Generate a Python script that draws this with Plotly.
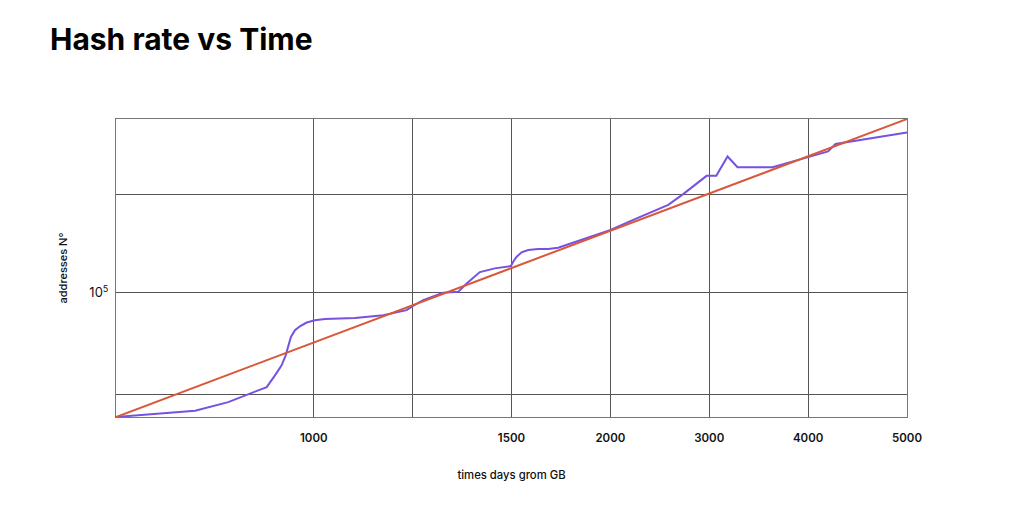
import plotly.graph_objects as go

# x positions are grid steps; labels below mark the days
tick_pos = [2, 4, 5, 6, 7, 8]
tick_labels = ["1000", "1500", "2000", "3000", "4000", "5000"]
x_extra_grid = [3]

y_tick_vals = [100000]
y_tick_text = ["10<sup>5</sup>"]
y_extra_grid = [49400, 197500]

hash_x = [0.00, 0.80, 1.135, 1.524, 1.608, 1.675, 1.716, 1.742, 1.769, 1.810, 1.860, 1.928,
          2.012, 2.113, 2.282, 2.417, 2.703, 2.939, 3.000, 3.107, 3.309, 3.461, 3.546, 3.680,
          3.832, 3.994, 4.017, 4.052, 4.102, 4.169, 4.270, 4.371, 4.472, 4.641, 5.002, 5.231,
          5.585, 5.736, 5.973, 6.071, 6.185, 6.286, 6.640, 7.000, 7.202, 7.277, 8.000]
hash_y = [42320, 44180, 46910, 52060, 56450, 60520, 64880, 68740, 73670, 77180, 79340, 81410,
          82720, 83480, 83870, 84060, 85630, 88690, 91190, 95060, 100000, 100700, 106750, 115460,
          118480, 120380, 124040, 128410, 132400, 134520, 135460, 135460, 136690, 141910, 154560, 165710,
          183910, 198100, 224900, 224900, 257200, 238900, 238900, 256100, 266300, 280400, 303900]

fit_x = [0, 8]
fit_y = [42300, 333400]

fig = go.Figure()
fig.add_trace(go.Scatter(x=hash_x, y=hash_y, mode="lines",
                         line=dict(color="#7652E0", width=2), showlegend=False))
fig.add_trace(go.Scatter(x=fit_x, y=fit_y, mode="lines",
                         line=dict(color="#D9573A", width=2), showlegend=False))

fig.update_layout(
    width=1024, height=506,
    paper_bgcolor="white", plot_bgcolor="white",
    margin=dict(l=108, r=125, t=111, b=97),
    font=dict(family="Inter, Arial, sans-serif", color="#111"),
    title=dict(text="<b>Hash rate vs Time</b>", x=0.041, xanchor="left", y=0.937, yanchor="middle",
               font=dict(size=30, family="Inter, Arial, sans-serif", color="#000")),
)
fig.update_xaxes(range=[0, 8], tickmode="array", tickvals=tick_pos, ticktext=tick_labels,
                 showgrid=True, gridcolor="#555", gridwidth=1,
                 minor=dict(tickmode="array", tickvals=x_extra_grid, showgrid=True,
                            gridcolor="#555", gridwidth=1, ticks=""),
                 showline=True, linecolor="#777", linewidth=1, mirror=True,
                 ticks="outside", ticklen=10, tickcolor="rgba(0,0,0,0)",
                 tickfont=dict(size=11.5, color="#111", weight=600), zeroline=False,
                 title=dict(text="times days grom GB", font=dict(size=11.3, weight=500), standoff=27))
fig.update_yaxes(type="log", range=[4.6265, 5.523], tickmode="array",
                 tickvals=y_tick_vals, ticktext=y_tick_text,
                 showgrid=True, gridcolor="#555", gridwidth=1,
                 minor=dict(tickmode="array", tickvals=y_extra_grid, showgrid=True,
                            gridcolor="#555", gridwidth=1, ticks=""),
                 showline=True, linecolor="#777", linewidth=1, mirror=True,
                 ticks="outside", ticklen=4, tickcolor="rgba(0,0,0,0)",
                 tickfont=dict(size=13, color="#111"), zeroline=False,
                 title=dict(text="addresses N°", font=dict(size=11, weight=500), standoff=19))

fig.write_html("out.html")
